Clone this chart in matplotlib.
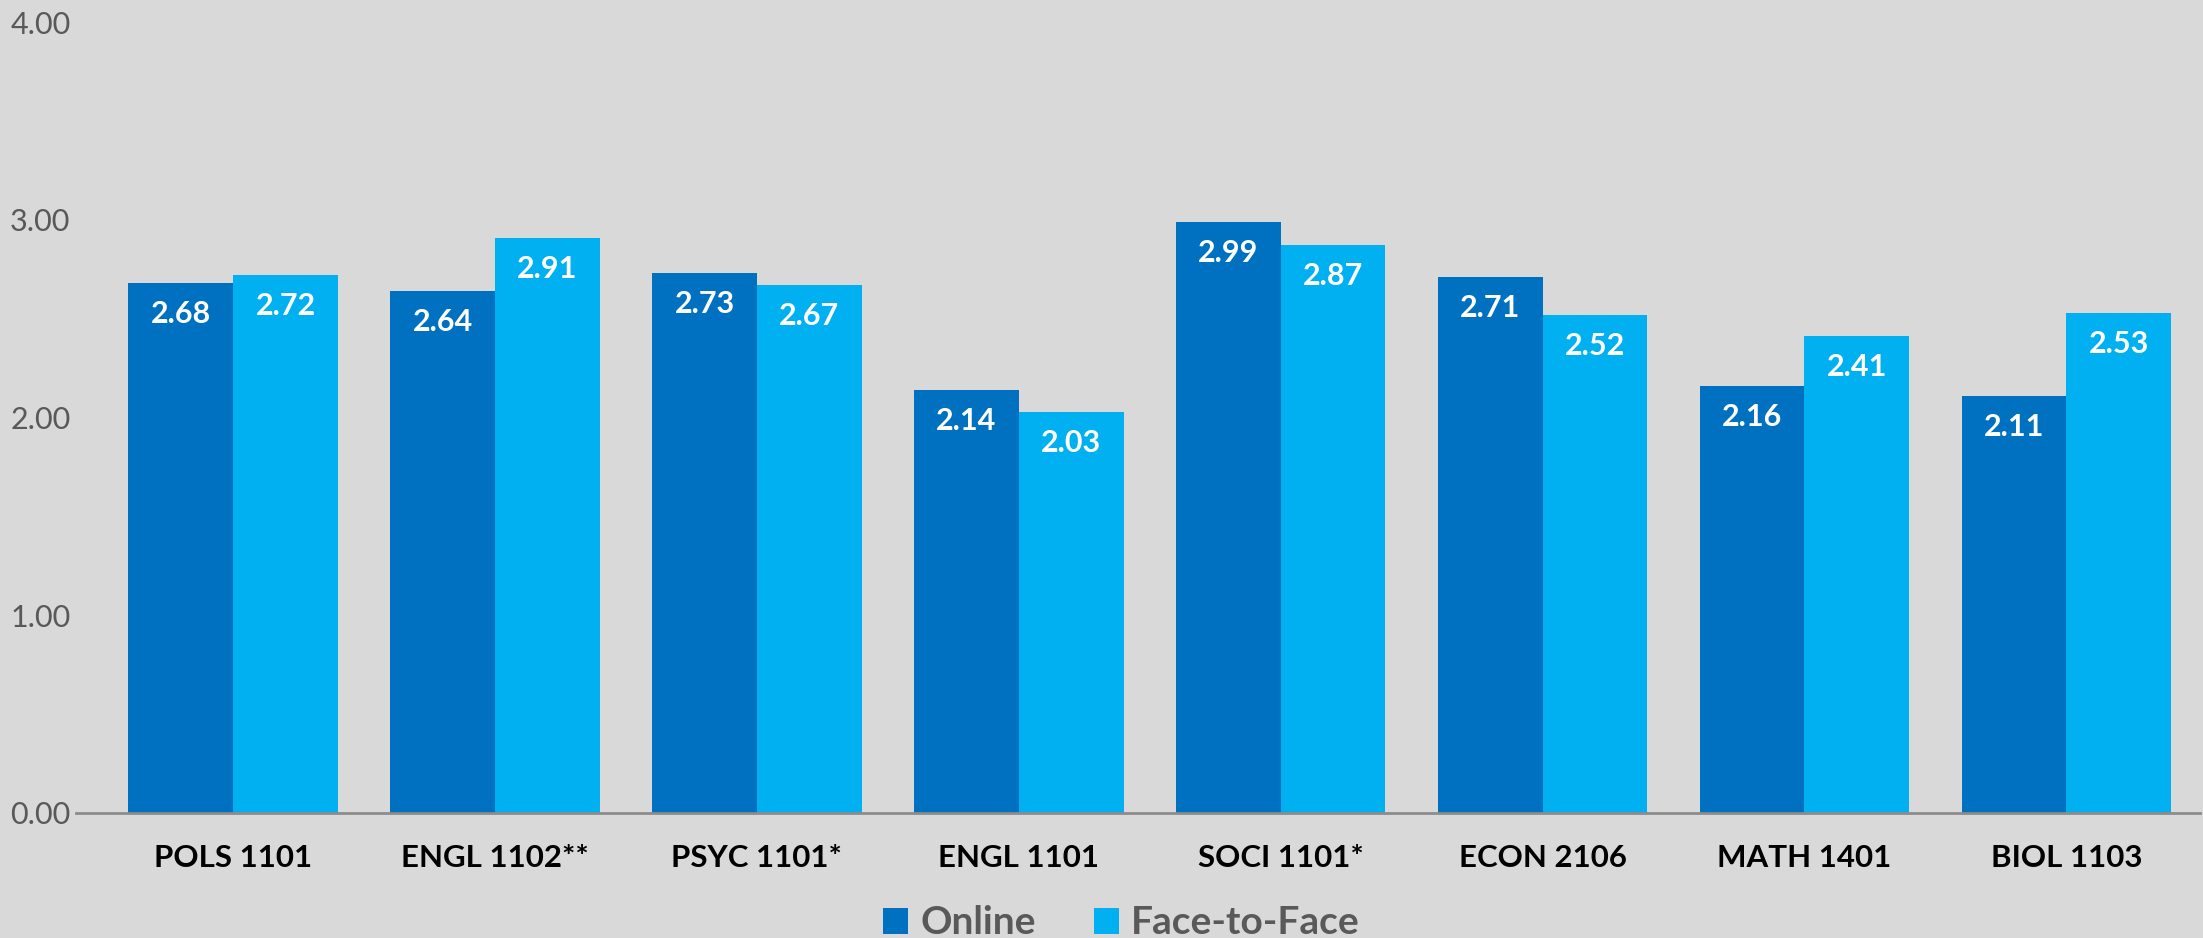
import matplotlib
matplotlib.use("Agg")
import matplotlib.pyplot as plt
import numpy as np

# Chart data
courses = ["POLS 1101", "ENGL 1102**", "PSYC 1101*", "ENGL 1101",
           "SOCI 1101*", "ECON 2106", "MATH 1401", "BIOL 1103"]
online = [2.68, 2.64, 2.73, 2.14, 2.99, 2.71, 2.16, 2.11]
face_to_face = [2.72, 2.91, 2.67, 2.03, 2.87, 2.52, 2.41, 2.53]
series_names = ["Online", "Face-to-Face"]
y_ticks = [0, 1, 2, 3, 4]

bg = "#D9D9D9"
col_online = "#0070C0"
col_f2f = "#00B0F0"

plt.rcParams['font.family'] = ['Lato', 'DejaVu Sans']

fig = plt.figure(figsize=(22.03, 9.38), dpi=100, facecolor=bg)
ax = fig.add_axes([0.0345, 0.1333, 0.9641, 0.8432], facecolor=bg)

x = np.arange(len(courses))
w = 0.4
b1 = ax.bar(x - w / 2, online, w, color=col_online, label=series_names[0])
b2 = ax.bar(x + w / 2, face_to_face, w, color=col_f2f, label=series_names[1])

# value labels inside the bar tops
for bars in (b1, b2):
    for rect in bars:
        h = rect.get_height()
        ax.annotate(f"{h:.2f}", (rect.get_x() + rect.get_width() / 2, h),
                    xytext=(0, -31), textcoords="offset pixels",
                    ha="center", va="center", color="white",
                    fontsize=22, fontweight="bold")

ax.set_xlim(-0.6, len(courses) - 0.49)
ax.set_ylim(0, 4)
ax.set_yticks(y_ticks)
ax.set_yticklabels([f"{t:.2f}" for t in y_ticks], color="#595959", fontsize=22)
ax.set_xticks(x)
ax.set_xticklabels(courses, fontsize=22.5, fontweight="bold", color="black")
ax.tick_params(axis="both", length=0)
ax.tick_params(axis="x", pad=22)
ax.tick_params(axis="y", pad=4)

for s in ("top", "right", "left"):
    ax.spines[s].set_visible(False)
ax.spines["bottom"].set_color("#8C8C8C")
ax.spines["bottom"].set_linewidth(2)

leg = fig.legend(loc="center", bbox_to_anchor=(0.509, 0.016), ncol=2, frameon=False,
                 handlelength=0.65, handleheight=0.65,
                 handletextpad=0.3, columnspacing=1.5,
                 prop={"weight": "bold", "size": 28})
for t in leg.get_texts():
    t.set_color("#595959")

fig.savefig("out.png", dpi=100, facecolor=bg)
